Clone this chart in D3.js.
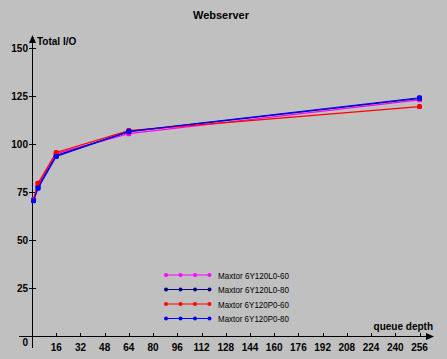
<!DOCTYPE html>
<html><head><meta charset="utf-8">
<script src="https://cdn.jsdelivr.net/npm/d3@7"></script>
<style>
html,body{margin:0;padding:0;background:#c0c0c0;}
svg{display:block;}
</style></head>
<body>
<script>
const title = "Webserver";
const yTitle = "Total I/O";
const xTitle = "queue depth";
const queueDepth = [1, 4, 16, 64, 256];
const seriesNames = ["Maxtor 6Y120L0-60", "Maxtor 6Y120L0-80", "Maxtor 6Y120P0-60", "Maxtor 6Y120P0-80"];
const seriesColors = ["#ff00ff", "#000080", "#ff0000", "#0000ff"];
const valsL060 = [70.8, 79.0, 95.0, 105.4, 123.0];
const valsL080 = [70.6, 77.6, 94.0, 106.4, 123.7];
const valsP060 = [71.0, 79.6, 95.6, 107.0, 119.5];
const valsP080 = [70.4, 77.0, 93.5, 106.6, 124.1];
const xTicks = [16, 32, 48, 64, 80, 96, 112, 128, 144, 160, 176, 192, 208, 224, 240, 256];
const yTicks = [25, 50, 75, 100, 125, 150];

const allVals = [valsL060, valsL080, valsP060, valsP080];
const W = 447, H = 359;
const svg = d3.select("body").append("svg").attr("width", W).attr("height", H);
svg.append("rect").attr("width", W).attr("height", H).attr("fill", "#c0c0c0");

const x = d3.scaleLinear().domain([0, 256]).range([32, 419.5]);
const y = d3.scaleLinear().domain([0, 150]).range([336, 48]);
const bold = "'Liberation Sans', Arial, sans-serif";

svg.append("text").attr("x", 221).attr("y", 19).attr("text-anchor", "middle")
  .attr("font-family", bold).attr("font-weight", "bold").attr("font-size", 11).text(title);

// axes lines
const ax = svg.append("g").attr("stroke", "#000").attr("stroke-width", 1);
ax.append("line").attr("x1", x(0)+0.5).attr("x2", x(0)+0.5).attr("y1", 40).attr("y2", 348);
ax.append("line").attr("x1", 19).attr("x2", 430).attr("y1", y(0)+0.5).attr("y2", y(0)+0.5);
svg.append("path").attr("d", `M${x(0)+0.5},35 L${x(0)-3},43 L${x(0)+4},43 Z`).attr("fill", "#000");
svg.append("path").attr("d", `M434,${y(0)+0.5} L426,${y(0)-3} L426,${y(0)+4} Z`).attr("fill", "#000");

// y ticks
const yg = svg.append("g");
yTicks.forEach(t => {
  yg.append("line").attr("x1", x(0)-3).attr("x2", x(0)+4).attr("y1", Math.round(y(t))+0.5).attr("y2", Math.round(y(t))+0.5).attr("stroke", "#000");
  yg.append("text").attr("x", 28).attr("y", y(t)+4).attr("text-anchor", "end")
    .attr("font-family", bold).attr("font-weight", "bold").attr("font-size", 10).text(t);
});
svg.append("text").attr("x", 28).attr("y", 346).attr("text-anchor", "end")
  .attr("font-family", bold).attr("font-weight", "bold").attr("font-size", 10).text("0");

// x ticks
const xg = svg.append("g");
xTicks.forEach(t => {
  xg.append("line").attr("x1", Math.round(x(t))+0.5).attr("x2", Math.round(x(t))+0.5).attr("y1", y(0)-3).attr("y2", y(0)+1).attr("stroke", "#000");
  xg.append("text").attr("x", x(t)).attr("y", 351).attr("text-anchor", "middle")
    .attr("font-family", bold).attr("font-weight", "bold").attr("font-size", 10).text(t);
});

svg.append("text").attr("x", 37).attr("y", 45).attr("font-family", bold).attr("font-weight", "bold").attr("font-size", 10).text(yTitle);
svg.append("text").attr("x", 433).attr("y", 330).attr("text-anchor", "end").attr("font-family", bold).attr("font-weight", "bold").attr("font-size", 10).text(xTitle);

// series
const line = d3.line().x((d, i) => x(queueDepth[i])).y(d => y(d));
allVals.forEach((vals, s) => {
  const g = svg.append("g");
  g.append("path").attr("d", line(vals)).attr("fill", "none").attr("stroke", seriesColors[s]).attr("stroke-width", 1.2);
  g.selectAll("rect").data(vals).join("rect")
    .attr("x", (d, i) => x(queueDepth[i]) - 2.5).attr("y", d => y(d) - 2.5)
    .attr("width", 5).attr("height", 5).attr("rx", 1.5).attr("fill", seriesColors[s]);
});

// legend
const lg = svg.append("g");
seriesNames.forEach((n, i) => {
  const ly = 275 + i * 14.5;
  lg.append("line").attr("x1", 166).attr("x2", 210).attr("y1", ly).attr("y2", ly).attr("stroke", seriesColors[i]).attr("stroke-width", 1.2);
  [166, 180.5, 195, 209.5].forEach(px => {
    lg.append("circle").attr("cx", px).attr("cy", ly).attr("r", 2).attr("fill", seriesColors[i]);
  });
  lg.append("text").attr("x", 218).attr("y", ly + 3.5).attr("font-family", "'Liberation Sans', Arial, sans-serif")
    .attr("font-size", 9.5).attr("textLength", 71).attr("lengthAdjust", "spacingAndGlyphs").text(n);
});
</script>
</body></html>
